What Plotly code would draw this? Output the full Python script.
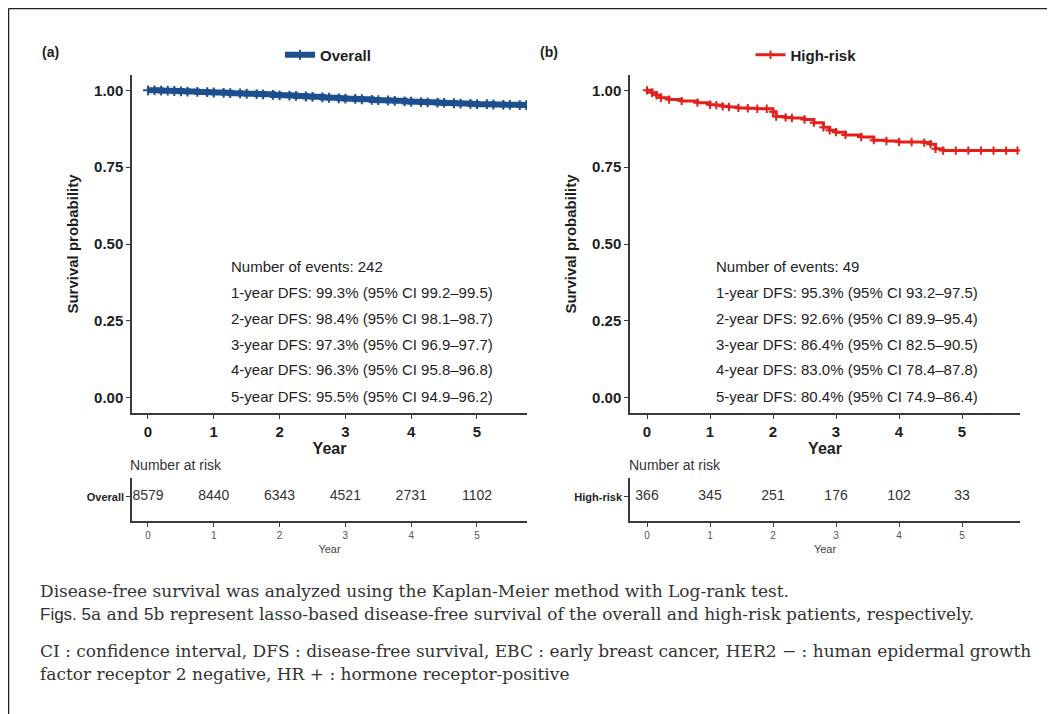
import plotly.graph_objects as go

# the page body adds an 8px margin, so the figure is drawn 8px in from the window edge
OFF = 8
W, H = 1055 - OFF, 714 - OFF

# ---------------- data ----------------
overall_t = [0, 0.1, 0.2, 0.3, 0.4, 0.5, 0.6, 0.75, 0.9, 1.0, 1.15, 1.25, 1.4, 1.5, 1.65, 1.75,
             1.9, 2.0, 2.15, 2.25, 2.4, 2.5, 2.65, 2.75, 2.9, 3.0, 3.15, 3.25, 3.4, 3.5, 3.65,
             3.75, 3.9, 4.0, 4.15, 4.25, 4.4, 4.5, 4.65, 4.75, 4.9, 5.0, 5.15, 5.25, 5.4, 5.5,
             5.65, 5.75]
overall_s = [1.000, 1.000, 0.999, 0.999, 0.998, 0.997, 0.996, 0.995, 0.994, 0.993, 0.992,
             0.991, 0.990, 0.989, 0.988, 0.987, 0.985, 0.984, 0.983, 0.982, 0.980, 0.979,
             0.977, 0.976, 0.974, 0.973, 0.972, 0.971, 0.969, 0.968, 0.967, 0.966, 0.964,
             0.963, 0.962, 0.961, 0.960, 0.959, 0.958, 0.957, 0.956, 0.955, 0.955, 0.954,
             0.953, 0.953, 0.952, 0.952]

high_t = [0, 0.08, 0.15, 0.22, 0.35, 0.55, 0.8, 1.0, 1.1, 1.2, 1.3, 1.45, 1.6, 1.75, 1.9,
          2.0, 2.05, 2.2, 2.3, 2.5, 2.65, 2.8, 2.9, 3.0, 3.15, 3.4, 3.6, 3.8, 4.0, 4.2,
          4.4, 4.5, 4.58, 4.7, 4.9, 5.1, 5.3, 5.5, 5.7, 5.88]
high_s = [1.000, 0.992, 0.984, 0.976, 0.970, 0.965, 0.960, 0.953, 0.952, 0.948, 0.946,
          0.943, 0.942, 0.940, 0.940, 0.930, 0.915, 0.912, 0.910, 0.905, 0.895, 0.880,
          0.870, 0.864, 0.855, 0.848, 0.838, 0.835, 0.832, 0.832, 0.830, 0.825, 0.810,
          0.804, 0.804, 0.804, 0.804, 0.804, 0.804, 0.804]

risk_years = [0, 1, 2, 3, 4, 5]
overall_risk = [8579, 8440, 6343, 4521, 2731, 1102]
high_risk = [366, 345, 251, 176, 102, 33]

overall_stats = ["Number of events: 242",
                 "1-year DFS: 99.3% (95% CI 99.2–99.5)",
                 "2-year DFS: 98.4% (95% CI 98.1–98.7)",
                 "3-year DFS: 97.3% (95% CI 96.9–97.7)",
                 "4-year DFS: 96.3% (95% CI 95.8–96.8)",
                 "5-year DFS: 95.5% (95% CI 94.9–96.2)"]
high_stats = ["Number of events: 49",
              "1-year DFS: 95.3% (95% CI 93.2–97.5)",
              "2-year DFS: 92.6% (95% CI 89.9–95.4)",
              "3-year DFS: 86.4% (95% CI 82.5–90.5)",
              "4-year DFS: 83.0% (95% CI 78.4–87.8)",
              "5-year DFS: 80.4% (95% CI 74.9–86.4)"]

yticks = [0, 0.25, 0.5, 0.75, 1.0]
ytick_text = ["0.00", "0.25", "0.50", "0.75", "1.00"]

BLUE = "#1d4f8f"
RED = "#e3211c"
AX = "#3a3a3a"
TXT = "#1e1e1e"
SANS = "Liberation Sans, Arial, sans-serif"
SERIF = "DejaVu Serif, Liberation Serif, serif"


def px_x(p):
    return (p - OFF) / W


def px_y(p):
    return 1 - (p - OFF) / H


fig = go.Figure()

# main curves
fig.add_trace(go.Scatter(x=overall_t, y=overall_s, mode="lines+markers", line_shape="hv",
                         line=dict(color=BLUE, width=6),
                         marker=dict(symbol="cross-thin", size=7, line=dict(color=BLUE, width=2)),
                         name="<b>Overall</b>", xaxis="x", yaxis="y", legend="legend"))
fig.add_trace(go.Scatter(x=high_t, y=high_s, mode="lines+markers", line_shape="hv",
                         line=dict(color=RED, width=3),
                         marker=dict(symbol="cross-thin", size=6, line=dict(color=RED, width=2)),
                         name="<b>High-risk</b>", xaxis="x2", yaxis="y2", legend="legend2"))

# risk tables
fig.add_trace(go.Scatter(x=risk_years, y=[0.56] * len(risk_years), mode="text",
                         text=[str(v) for v in overall_risk],
                         textfont=dict(family=SANS, size=14, color="#333"),
                         showlegend=False, xaxis="x3", yaxis="y3", hoverinfo="skip"))
fig.add_trace(go.Scatter(x=risk_years, y=[0.56] * len(risk_years), mode="text",
                         text=[str(v) for v in high_risk],
                         textfont=dict(family=SANS, size=14, color="#333"),
                         showlegend=False, xaxis="x4", yaxis="y4", hoverinfo="skip"))

main_y_dom = [px_y(413), px_y(75)]
risk_y_dom = [px_y(521), px_y(478)]
a_x_dom = [px_x(132), px_x(527)]
b_x_dom = [px_x(630), px_x(1020)]

common_axis = dict(showline=True, linecolor=AX, linewidth=1.5, ticks="outside",
                   tickcolor=AX, ticklen=4, tickwidth=1.2, showgrid=False, zeroline=False)

main_x = dict(common_axis, tickvals=risk_years, ticktext=["<b>%d</b>" % v for v in risk_years],
              tickfont=dict(family=SANS, size=15, color=TXT),
              title=dict(text="<b>Year</b>", font=dict(family=SANS, size=16, color=TXT), standoff=1))
main_y = dict(common_axis, range=[-0.05, 1.05], tickvals=yticks, ticktext=["<b>%s</b>" % t for t in ytick_text],
              tickfont=dict(family=SANS, size=15, color=TXT),
              title=dict(text="<b>Survival probability</b>", font=dict(family=SANS, size=15, color=TXT),
                         standoff=12))
risk_x = dict(common_axis, tickvals=risk_years, tickfont=dict(family=SANS, size=10, color="#555"),
              title=dict(text="Year", font=dict(family=SANS, size=11, color="#444"), standoff=6))
risk_y = dict(common_axis, range=[0, 1], tickvals=[0.56],
              tickfont=dict(family=SANS, size=11, color=TXT))

fig.update_layout(
    width=W, height=H, margin=dict(l=0, r=0, t=0, b=0),
    paper_bgcolor="white", plot_bgcolor="white",
    xaxis=dict(main_x, domain=a_x_dom, range=[-0.243, 5.76], anchor="y"),
    yaxis=dict(main_y, domain=main_y_dom, anchor="x"),
    xaxis2=dict(main_x, domain=b_x_dom, range=[-0.27, 5.92], anchor="y2"),
    yaxis2=dict(main_y, domain=main_y_dom, anchor="x2"),
    xaxis3=dict(risk_x, domain=a_x_dom, range=[-0.243, 5.76], anchor="y3"),
    yaxis3=dict(risk_y, domain=risk_y_dom, anchor="x3", ticktext=["<b>Overall</b>"]),
    xaxis4=dict(risk_x, domain=b_x_dom, range=[-0.27, 5.92], anchor="y4"),
    yaxis4=dict(risk_y, domain=risk_y_dom, anchor="x4", ticktext=["<b>High-risk</b>"]),
    legend=dict(x=px_x(328), y=px_y(55), xanchor="center", yanchor="middle", orientation="h",
                font=dict(family=SANS, size=15, color=TXT), bgcolor="rgba(0,0,0,0)", itemwidth=30),
    legend2=dict(x=px_x(806), y=px_y(55), xanchor="center", yanchor="middle", orientation="h",
                 font=dict(family=SANS, size=15, color=TXT), bgcolor="rgba(0,0,0,0)", itemwidth=30),
    showlegend=True,
)

ann = []
# panel labels
ann.append(dict(x=px_x(40), y=px_y(52), text="<b>(a)</b>", showarrow=False, xanchor="left",
                yanchor="middle", font=dict(family=SANS, size=14, color=TXT), xref="paper", yref="paper"))
ann.append(dict(x=px_x(538), y=px_y(52), text="<b>(b)</b>", showarrow=False, xanchor="left",
                yanchor="middle", font=dict(family=SANS, size=14, color=TXT), xref="paper", yref="paper"))
# stat text
for i, (ta, tb) in enumerate(zip(overall_stats, high_stats)):
    yy = px_y(266 + 26 * i)
    ann.append(dict(x=px_x(229), y=yy, text=ta, showarrow=False, xanchor="left", yanchor="middle",
                    font=dict(family=SANS, size=15, color=TXT), xref="paper", yref="paper"))
    ann.append(dict(x=px_x(714), y=yy, text=tb, showarrow=False, xanchor="left", yanchor="middle",
                    font=dict(family=SANS, size=15, color=TXT), xref="paper", yref="paper"))
# number at risk titles
for xp in (128, 627):
    ann.append(dict(x=px_x(xp), y=px_y(465), text="Number at risk", showarrow=False, xanchor="left",
                    yanchor="middle", font=dict(family=SANS, size=14, color="#333"), xref="paper", yref="paper"))
# caption
cap_font = dict(family=SERIF, size=17, color="#333")
ann.append(dict(x=px_x(38), y=px_y(591), text="Disease-free survival was analyzed using the Kaplan-Meier method with Log-rank test.",
                showarrow=False, xanchor="left", yanchor="middle", font=cap_font, xref="paper", yref="paper"))
ann.append(dict(x=px_x(38), y=px_y(614),
                text="<span style='font-family:Liberation Sans'>Figs. 5</span>a and "
                     "<span style='font-family:Liberation Sans'>5</span>b represent lasso-based disease-free survival "
                     "of the overall and high-risk patients, respectively.",
                showarrow=False, xanchor="left", yanchor="middle", font=cap_font, xref="paper", yref="paper"))
ann.append(dict(x=px_x(38), y=px_y(651),
                text="CI : confidence interval, DFS : disease-free survival, EBC : early breast cancer, "
                     "HER2 − : human epidermal growth",
                showarrow=False, xanchor="left", yanchor="middle", font=cap_font, xref="paper", yref="paper"))
ann.append(dict(x=px_x(38), y=px_y(674), text="factor receptor 2 negative, HR + : hormone receptor-positive",
                showarrow=False, xanchor="left", yanchor="middle", font=cap_font, xref="paper", yref="paper"))
fig.update_layout(annotations=ann)

# frame lines
fig.add_shape(type="line", xref="paper", yref="paper", x0=px_x(8.5), x1=1, y0=px_y(8.5), y1=px_y(8.5),
              line=dict(color="#222", width=1.5))
fig.add_shape(type="line", xref="paper", yref="paper", x0=px_x(8.5), x1=px_x(8.5), y0=0, y1=px_y(8.5),
              line=dict(color="#222", width=1.5))

fig.write_html("out.html")
